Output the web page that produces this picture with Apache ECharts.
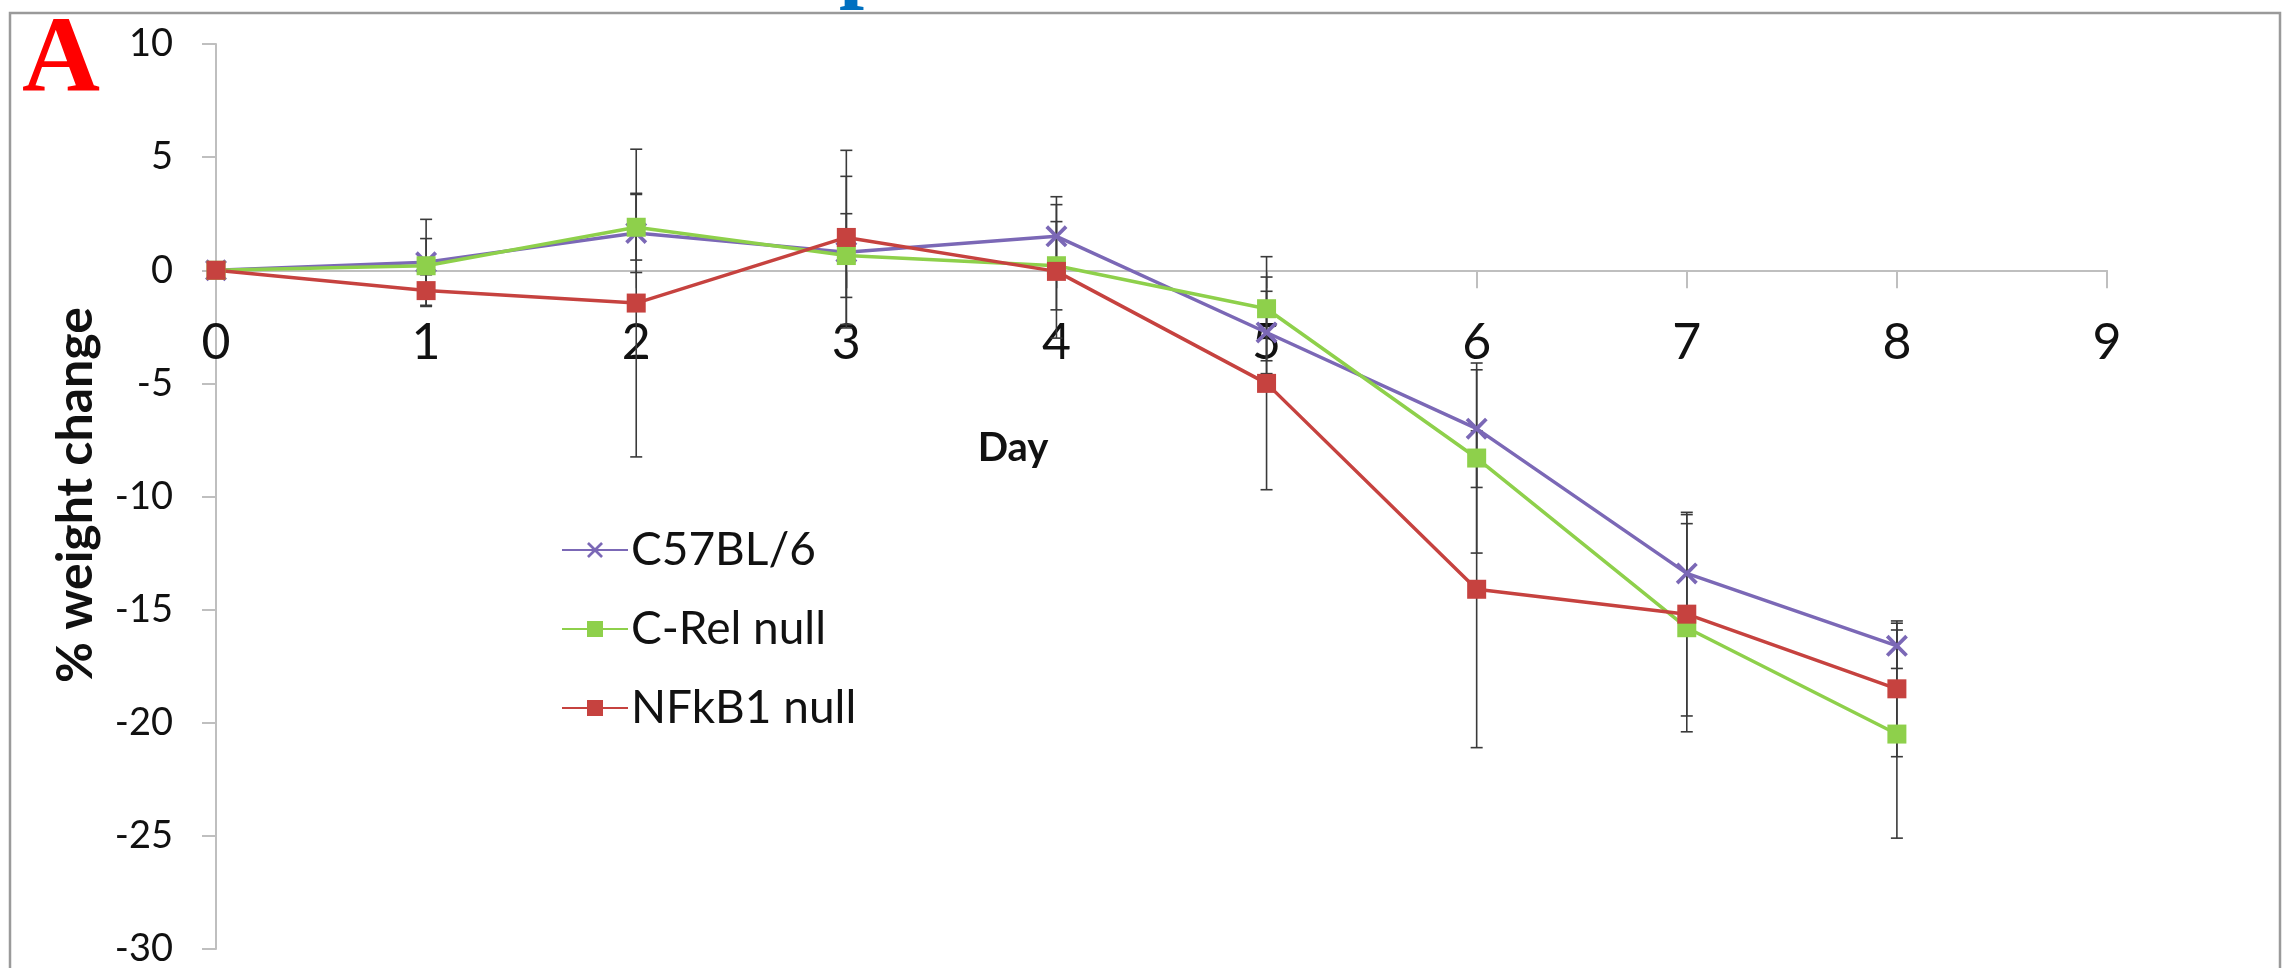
<!DOCTYPE html>
<html>
<head>
<meta charset="utf-8">
<title>% weight change by day</title>
<script src="https://cdn.jsdelivr.net/npm/echarts@6/dist/echarts.min.js"></script>
<style>
  html, body { margin: 0; padding: 0; background: #ffffff; }
  #chart { width: 2286px; height: 968px; }
</style>
</head>
<body>
<div id="chart"></div>
<script>
// Days after infection
const days = [0, 1, 2, 3, 4, 5, 6, 7, 8];

// Mean % weight change per group
const c57Mean   = [0, 0.35, 1.65, 0.8, 1.5, -2.75, -7.0, -13.4, -16.6];
const cRelMean  = [0, 0.2, 1.9, 0.65, 0.2, -1.7, -8.3, -15.8, -20.5];
const nfkb1Mean = [0, -0.9, -1.45, 1.45, -0.05, -5.0, -14.1, -15.2, -18.5];

// Error bar half-widths (± SD)
const c57Err   = [0, 1.9, 1.75, 3.35, 1.75, 1.82, 2.6, 2.6, 1.0];
const cRelErr  = [0, 1.2, 1.45, 1.85, 1.95, 2.3, 4.2, 4.6, 4.6];
const nfkb1Err = [0, 0.7, 6.8, 3.85, 2.95, 4.7, 7.0, 4.5, 3.0];

const groupNames = ['C57BL/6', 'C-Rel null', 'NFkB1 null'];
const groupColors = ['#7B68B6', '#8ED04B', '#C6423F'];

const FONT = 'Lato, "Open Sans", sans-serif';
// Filled "x" marker
const crossSymbol = 'path://M0,1.2L1.2,0L5,3.8L8.8,0L10,1.2L6.2,5L10,8.8L8.8,10L5,6.2L1.2,10L0,8.8L3.8,5Z';

// Plot area edges and the y value at which the day axis sits
const GRID = { left: 216, right: 179, top: 44, bottom: 19 };
const Y_MIN = -30, Y_MAX = 10;
const plotHeight = 968 - GRID.top - GRID.bottom;
const zeroOffset = -plotHeight * (0 - Y_MIN) / (Y_MAX - Y_MIN);

function pairs(means) {
  return days.map((d, i) => [d, means[i]]);
}

function lineSeries(idx, means, symbol, size) {
  return {
    name: groupNames[idx],
    type: 'line',
    data: pairs(means),
    z: 3,
    symbol: symbol,
    symbolSize: size,
    showAllSymbol: true,
    lineStyle: { color: groupColors[idx], width: 3.5 },
    itemStyle: { color: groupColors[idx], borderWidth: 0 },
    emphasis: { disabled: true },
    animation: false
  };
}

function errorSeries(idx, means, errs) {
  return {
    name: groupNames[idx] + ' SD',
    type: 'custom',
    z: 2,
    data: days.map((d, i) => [d, means[i], errs[i]]),
    renderItem: function (params, api) {
      const x = api.value(0), m = api.value(1), e = api.value(2);
      if (!(e > 0)) return null;
      const top = api.coord([x, m + e]);
      const bot = api.coord([x, m - e]);
      const st = { stroke: '#3a3a3a', lineWidth: 1.6 };
      return {
        type: 'group',
        children: [
          { type: 'line', shape: { x1: top[0], y1: top[1], x2: bot[0], y2: bot[1] }, style: st },
          { type: 'line', shape: { x1: top[0] - 6, y1: top[1], x2: top[0] + 6, y2: top[1] }, style: st },
          { type: 'line', shape: { x1: bot[0] - 6, y1: bot[1], x2: bot[0] + 6, y2: bot[1] }, style: st }
        ]
      };
    },
    animation: false,
    silent: true
  };
}

const chart = echarts.init(document.getElementById('chart'), null, { renderer: 'canvas' });

chart.setOption({
  backgroundColor: '#ffffff',
  animation: false,
  grid: {
    left: GRID.left, right: GRID.right, top: GRID.top, bottom: GRID.bottom,
    containLabel: false,
    outerBoundsMode: 'none'
  },
  xAxis: {
    type: 'value',
    min: 0,
    max: 9,
    interval: 1,
    offset: zeroOffset,
    axisLine: { show: true, onZero: false, lineStyle: { color: '#BFBFBF', width: 2 } },
    axisTick: { show: true, length: 18, lineStyle: { color: '#BFBFBF', width: 2 } },
    axisLabel: { show: true, margin: 48, fontSize: 50, fontFamily: FONT, color: '#111' },
    splitLine: { show: false }
  },
  yAxis: {
    type: 'value',
    min: Y_MIN,
    max: Y_MAX,
    interval: 5,
    axisLine: { show: true, lineStyle: { color: '#BFBFBF', width: 2 } },
    axisTick: { show: true, length: 14, lineStyle: { color: '#BFBFBF', width: 2 } },
    axisLabel: { show: true, margin: 43, fontSize: 38, fontFamily: FONT, color: '#111' },
    splitLine: { show: false }
  },
  legend: {
    data: groupNames,
    orient: 'vertical',
    left: 556,
    top: 521,
    itemWidth: 66,
    itemHeight: 20,
    itemGap: 31,
    textStyle: { fontSize: 46, fontFamily: FONT, color: '#111', lineHeight: 48, padding: [0, 0, 0, -2] },
    selectedMode: false
  },
  series: [
    errorSeries(0, c57Mean, c57Err),
    errorSeries(1, cRelMean, cRelErr),
    errorSeries(2, nfkb1Mean, nfkb1Err),
    lineSeries(0, c57Mean, crossSymbol, 22),
    lineSeries(1, cRelMean, 'rect', 19),
    lineSeries(2, nfkb1Mean, 'rect', 19)
  ],
  graphic: [
    {
      type: 'rect',
      z: -10,
      shape: { x: 10, y: 13, width: 2270, height: 1000 },
      style: { fill: 'none', stroke: '#9a9a9a', lineWidth: 2.5 },
      silent: true
    },
    {
      type: 'text',
      x: 22,
      y: 63,
      style: {
        text: 'A',
        font: 'bold 108px "Liberation Serif", "Times New Roman", serif',
        fill: '#FF0000',
        textAlign: 'left',
        textVerticalAlign: 'middle'
      },
      silent: true
    },
    {
      type: 'text',
      x: 864,
      y: 13,
      style: {
        text: 'p',
        font: 'bold 90px "Liberation Serif", "Times New Roman", serif',
        fill: '#0070C0',
        textAlign: 'center',
        textVerticalAlign: 'bottom'
      },
      silent: true
    },
    {
      type: 'text',
      x: 76,
      y: 495,
      rotation: Math.PI / 2,
      style: {
        text: '% weight change',
        font: 'bold 50px ' + FONT,
        fill: '#111',
        textAlign: 'center',
        textVerticalAlign: 'middle'
      },
      silent: true
    },
    {
      type: 'text',
      x: 1013,
      y: 448,
      style: {
        text: 'Day',
        font: 'bold 40px ' + FONT,
        fill: '#111',
        textAlign: 'center',
        textVerticalAlign: 'middle'
      },
      silent: true
    }
  ]
});
</script>
</body>
</html>
